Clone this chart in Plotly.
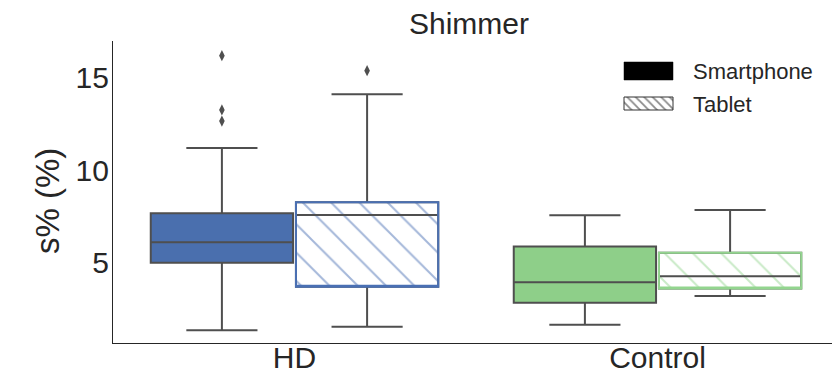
import plotly.graph_objects as go

# ---------------- data ----------------
groups = ["HD", "Control"]
devices = ["Smartphone", "Tablet"]
group_pos = [0, 1]

smart_q1 = [5.01, 2.86]
smart_median = [6.11, 3.96]
smart_q3 = [7.67, 5.88]
smart_low = [1.37, 1.67]
smart_high = [11.19, 7.57]
smart_outliers = [[16.16, 13.24, 12.64], []]

tab_q1 = [3.72, 3.63]
tab_median = [7.58, 4.28]
tab_q3 = [8.27, 5.55]
tab_low = [1.57, 3.22]
tab_high = [14.08, 7.85]
tab_outliers = [[15.35], []]

y_ticks = [5, 10, 15]
title_text = "Shimmer"
y_title = "s% (%)"

# ---------------- style ----------------
dodge = 0.2
box_width = 0.392
fill_colors = ["#4a6fae", "#8ecf89"]
edge_colors = ["#4a70b4", "#93d58f"]
GRAY = "#4f4f4f"
TEXT = "#262626"
FONT = "Liberation Sans, Arial, sans-serif"
CLEAR = "rgba(0,0,0,0)"

# page is 840x379 but the html body has an 8px default margin
PAGE_W, PAGE_H, BODY = 840, 379, 8
W, H = PAGE_W - BODY, PAGE_H - BODY
# plot area in page pixels
PX0, PX1, PY0, PY1 = 113, 839, 41, 343
ML, MR, MT, MB = PX0 - BODY, PAGE_W - PX1, PY0 - BODY, PAGE_H - PY1
PW, PH = PX1 - PX0, PY1 - PY0

fig = go.Figure()

for i, g in enumerate(groups):
    xs = group_pos[i] - dodge
    xt = group_pos[i] + dodge

    # smartphone: filled box
    fig.add_trace(go.Box(
        x=[xs], q1=[smart_q1[i]], median=[smart_median[i]], q3=[smart_q3[i]],
        lowerfence=[smart_low[i]], upperfence=[smart_high[i]],
        width=box_width, whiskerwidth=0.5, fillcolor=fill_colors[i],
        line=dict(color=GRAY, width=2), boxpoints=False, hoverinfo="skip",
        showlegend=False))

    # tablet: hatched body
    fig.add_trace(go.Bar(
        x=[xt], y=[tab_q3[i] - tab_q1[i]], base=[tab_q1[i]], width=[box_width],
        marker=dict(color="white", line=dict(width=0),
                    pattern=dict(shape="\\", fgcolor=edge_colors[i], bgcolor="white",
                                 size=20, solidity=0.1)),
        hoverinfo="skip", showlegend=False))
    # tablet: whiskers + median (gray)
    fig.add_trace(go.Box(
        x=[xt], q1=[tab_q1[i]], median=[tab_median[i]], q3=[tab_q3[i]],
        lowerfence=[tab_low[i]], upperfence=[tab_high[i]],
        width=box_width, whiskerwidth=0.5, fillcolor=CLEAR,
        line=dict(color=GRAY, width=2), boxpoints=False, hoverinfo="skip",
        showlegend=False))
    # tablet: coloured outline
    fig.add_trace(go.Box(
        x=[xt], q1=[tab_q1[i]], median=[tab_q1[i]], q3=[tab_q3[i]],
        lowerfence=[tab_q1[i]], upperfence=[tab_q3[i]],
        width=box_width, whiskerwidth=0, fillcolor=CLEAR,
        line=dict(color=edge_colors[i], width=2), boxpoints=False, hoverinfo="skip",
        showlegend=False))

    for xpos, outs in ((xs, smart_outliers[i]), (xt, tab_outliers[i])):
        if outs:
            fig.add_trace(go.Scatter(
                x=[xpos] * len(outs), y=outs, mode="markers",
                marker=dict(symbol="diamond-tall", size=8, color=GRAY),
                hoverinfo="skip", showlegend=False))

# ---------------- custom legend (page-pixel helper axes) ----------------
LEG_X0, LEG_X1 = 624, 673
LEG_ROWS = [(62, 80), (97, 110)]
LEG_TEXT_X = 691
LEG_TEXT_Y = [71, 104]

y0, y1 = LEG_ROWS[0]
fig.add_trace(go.Scatter(
    x=[LEG_X0, LEG_X1, LEG_X1, LEG_X0, LEG_X0], y=[y0, y0, y1, y1, y0],
    xaxis="x2", yaxis="y2", mode="lines", fill="toself", fillcolor="black",
    line=dict(color="black", width=0.5), hoverinfo="skip", showlegend=False))
y0, y1 = LEG_ROWS[1]
fig.add_trace(go.Scatter(
    x=[LEG_X0, LEG_X1, LEG_X1, LEG_X0, LEG_X0], y=[y0, y0, y1, y1, y0],
    xaxis="x2", yaxis="y2", mode="lines", fill="toself", fillcolor="white",
    fillpattern=dict(shape="\\", fgcolor="#151515", bgcolor="white", size=6, solidity=0.3),
    line=dict(color="#333333", width=1), hoverinfo="skip", showlegend=False))

annotations = []
for name, ty in zip(devices, LEG_TEXT_Y):
    annotations.append(dict(
        x=LEG_TEXT_X, y=ty, xref="x2", yref="y2", text=name, showarrow=False,
        xanchor="left", yanchor="middle", font=dict(family=FONT, size=22, color=TEXT)))

annotations.append(dict(
    x=(47 - PX0) / PW, y=(PY1 - 201) / PH, xref="paper", yref="paper", text=y_title,
    showarrow=False, textangle=-90, xanchor="center", yanchor="middle",
    font=dict(family=FONT, size=33, color=TEXT)))

fig.update_layout(
    width=W, height=H,
    margin=dict(l=ML, r=MR, t=MT, b=MB, pad=0, autoexpand=False),
    paper_bgcolor="white", plot_bgcolor="white",
    barmode="overlay", boxmode="overlay",
    title=dict(text=title_text, x=(469 - PX0) / PW, xref="paper",
               xanchor="center", y=1 - (23 - BODY) / H, yref="container", yanchor="middle",
               font=dict(family=FONT, size=30, color=TEXT)),
    xaxis=dict(range=[-0.5, 1.5], tickvals=group_pos, ticktext=groups, automargin=False,
               showgrid=False, zeroline=False, showline=True, linecolor=TEXT,
               linewidth=1.3, ticks="", ticklabelstandoff=-12,
               tickfont=dict(family=FONT, size=30, color=TEXT)),
    yaxis=dict(range=[0.69, 16.95], tickvals=y_ticks, showgrid=False, zeroline=False,
               automargin=False, showline=True, linecolor=TEXT, linewidth=1.3, ticks="",
               ticklabelstandoff=-3, tickfont=dict(family=FONT, size=30, color=TEXT)),
    xaxis2=dict(overlaying="x", anchor="y2", range=[PX0, PX1], visible=False,
                fixedrange=True, automargin=False),
    yaxis2=dict(overlaying="y", anchor="x2", range=[PY1, PY0], visible=False,
                fixedrange=True, automargin=False),
    annotations=annotations,
)

fig.write_html("out.html")
